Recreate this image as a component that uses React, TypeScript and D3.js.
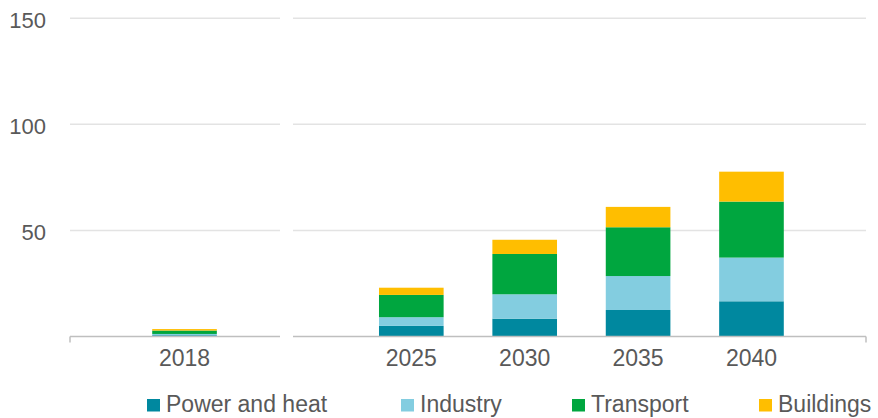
import React from "react";
import * as d3 from "d3";

const categories = ["2018", "gap", "2025", "2030", "2035", "2040"];
const years = ["2018", "2025", "2030", "2035", "2040"];
const seriesNames = ["Power and heat", "Industry", "Transport", "Buildings"];
const powerAndHeat = [0.6, 5.0, 8.4, 12.5, 16.6];
const industry = [0.6, 4.1, 11.5, 16.0, 20.6];
const transport = [1.6, 10.5, 19.0, 23.0, 26.4];
const buildings = [0.7, 3.4, 6.7, 9.6, 14.1];
const yTicks = [50, 100, 150];
const colors = ["#00889F", "#83CDE0", "#00A63F", "#FFBE00"];

const W = 878;
const H = 418;

export default function App() {
  const x = d3
    .scaleBand<string>()
    .domain(categories)
    .range([70, 866])
    .paddingInner(0.43)
    .paddingOuter(0.725);
  const y = d3.scaleLinear().domain([0, 150]).range([336.5, 18.3]);

  const rows = years.map((yr, i) => ({
    year: yr,
    "Power and heat": powerAndHeat[i],
    Industry: industry[i],
    Transport: transport[i],
    Buildings: buildings[i],
  }));
  const stacked = d3.stack<any>().keys(seriesNames)(rows);

  const panels: [number, number][] = [
    [70, 280],
    [293, 866],
  ];
  const font = "'Liberation Sans', Arial, sans-serif";
  const textColor = "#595959";
  const legendX = [147, 401, 572, 759];

  return (
    <svg width={W} height={H} style={{ position: "absolute", left: 0, top: 0, background: "#fff" }}>
      {yTicks.map((t) => (
        <g key={t}>
          {panels.map(([a, b], j) => (
            <line key={j} x1={a} x2={b} y1={y(t)} y2={y(t)} stroke="#E3E3E3" strokeWidth={1.5} />
          ))}
          <text
            x={46}
            y={y(t)}
            dy="0.42em"
            textAnchor="end"
            fontFamily={font}
            fontSize={22}
            fill={textColor}
          >
            {t}
          </text>
        </g>
      ))}
      {stacked.map((s, si) => (
        <g key={s.key} fill={colors[si]}>
          {s.map((d, i) => (
            <rect
              key={i}
              x={x(years[i])}
              width={x.bandwidth()}
              y={y(d[1])}
              height={y(d[0]) - y(d[1])}
            />
          ))}
        </g>
      ))}
      {panels.map(([a, b], j) => (
        <line key={j} x1={a} x2={b} y1={y(0)} y2={y(0)} stroke="#BFBFBF" strokeWidth={1.5} />
      ))}
      <line x1={70} x2={70} y1={y(0)} y2={y(0) + 6} stroke="#BFBFBF" strokeWidth={1.5} />
      <line x1={866} x2={866} y1={y(0)} y2={y(0) + 6} stroke="#BFBFBF" strokeWidth={1.5} />
      {years.map((yr) => (
        <text
          key={yr}
          x={(x(yr) as number) + x.bandwidth() / 2}
          y={365.5}
          textAnchor="middle"
          fontFamily={font}
          fontSize={23}
          fill={textColor}
        >
          {yr}
        </text>
      ))}
      {seriesNames.map((n, i) => (
        <g key={n}>
          <rect x={legendX[i]} y={399} width={13} height={12.5} fill={colors[i]} />
          <text x={legendX[i] + 19} y={411.5} fontFamily={font} fontSize={23} fill={textColor}>
            {n}
          </text>
        </g>
      ))}
    </svg>
  );
}
